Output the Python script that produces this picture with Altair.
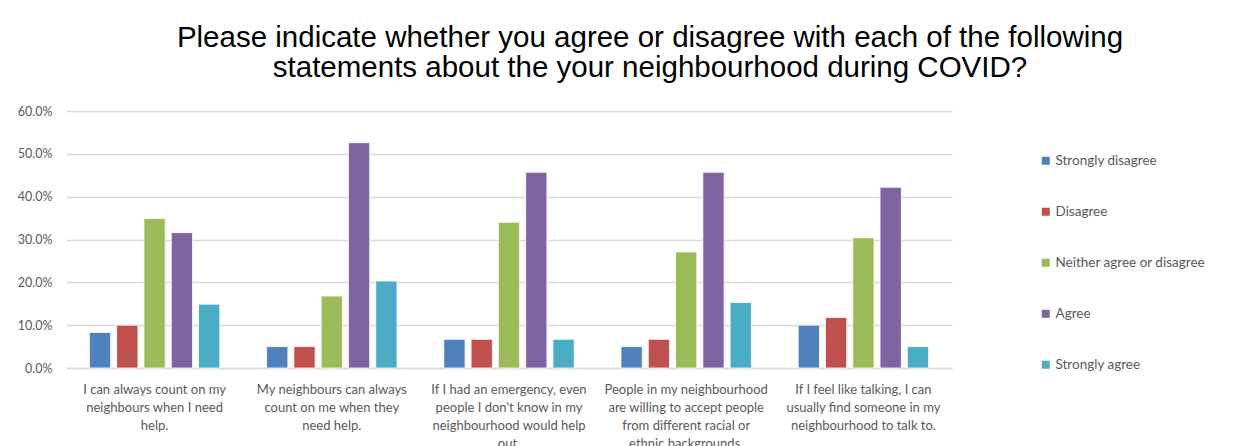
import altair as alt
import pandas as pd

categories = [
    "I can always count on my\nneighbours when I need\nhelp.",
    "My neighbours can always\ncount on me when they\nneed help.",
    "If I had an emergency, even\npeople I don't know in my\nneighbourhood would help\nout.",
    "People in my neighbourhood\nare willing to accept people\nfrom different racial or\nethnic backgrounds.",
    "If I feel like talking, I can\nusually find someone in my\nneighbourhood to talk to.",
]
responses = ["Strongly disagree", "Disagree", "Neither agree or disagree", "Agree", "Strongly agree"]
colors = ["#4F81BD", "#C0504D", "#9BBB59", "#8064A2", "#4BACC6"]

strongly_disagree = [0.083, 0.050, 0.067, 0.050, 0.100]
disagree = [0.100, 0.050, 0.067, 0.067, 0.118]
neither = [0.349, 0.168, 0.340, 0.271, 0.304]
agree = [0.316, 0.526, 0.457, 0.457, 0.422]
strongly_agree = [0.149, 0.203, 0.067, 0.153, 0.050]

series = [strongly_disagree, disagree, neither, agree, strongly_agree]
rows = []
for r, vals in zip(responses, series):
    for c, v in zip(categories, vals):
        rows.append({"statement": c, "response": r, "value": v})
df = pd.DataFrame(rows)

title_lines = [
    "Please indicate whether you agree or disagree with each of the following",
    "statements about the your neighbourhood during COVID?",
]

FONT = "Lato"
GRAY = "#595959"

chart = alt.Chart(df).mark_bar(stroke="white", strokeWidth=0.8).encode(
    x=alt.X("statement:N", sort=categories, title=None,
            scale=alt.Scale(paddingInner=0.23, paddingOuter=0.115),
            axis=alt.Axis(labelAngle=0, labelExpr="split(datum.label, '\\n')",
                          labelLineHeight=18, labelPadding=15, labelFontSize=13,
                          labelFont=FONT, labelColor=GRAY, ticks=False,
                          domainColor="#d9d9d9", domainWidth=1.5, labelLimit=300,
                          labelBaseline="top")),
    xOffset=alt.XOffset("response:N", sort=responses,
                        scale=alt.Scale(paddingInner=0.22, paddingOuter=0.11)),
    y=alt.Y("value:Q", title=None, scale=alt.Scale(domain=[0, 0.6]),
            axis=alt.Axis(format=".1%", values=[0, 0.1, 0.2, 0.3, 0.4, 0.5, 0.6],
                          labelFont=FONT, labelFontSize=12.5, labelColor=GRAY,
                          labelPadding=14, ticks=False, domain=False,
                          gridColor="#d9d9d9", gridWidth=1.5)),
    color=alt.Color("response:N", sort=responses,
                    scale=alt.Scale(domain=responses, range=colors),
                    legend=alt.Legend(title=None, orient="none", legendX=973, legendY=43,
                                      symbolType="square", symbolSize=64,
                                      symbolStrokeWidth=0, labelFont=FONT,
                                      labelFontSize=13.5, labelColor=GRAY,
                                      rowPadding=36, labelOffset=3)),
).properties(
    width=886,
    height=257,
    padding={"left": 58, "top": 103, "right": 280, "bottom": 90},
    autosize=alt.AutoSizeParams(type="none"),
    title=alt.TitleParams(text=title_lines, font="Liberation Sans", fontSize=29.5,
                          fontWeight="normal", color="black", anchor="middle",
                          frame="group", dx=141, dy=3, offset=2, lineHeight=30,
                          baseline="alphabetic"),
).configure_view(stroke=None)

chart.save("out.html", embed_options={"renderer": "svg", "actions": False})
